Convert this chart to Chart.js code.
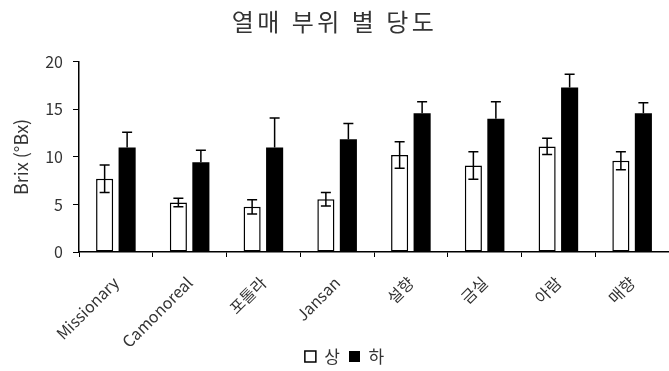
<!DOCTYPE html>
<html>
<head>
<meta charset="utf-8">
<script src="https://cdn.jsdelivr.net/npm/chart.js@4"></script>
<style>
  html, body { margin: 0; padding: 0; background: #fff; }
  #wrap { width: 669px; height: 371px; }
</style>
</head>
<body>
<div id="wrap"><canvas id="brixChart" width="669" height="371"></canvas></div>
<script>
const categories = ['Missionary', 'Camonoreal', '포톨라', 'Jansan', '설향', '금실', '아람', '매향'];
const upperBrix = [7.7, 5.2, 4.75, 5.55, 10.2, 9.1, 11.1, 9.6];
const upperErr = [1.45, 0.45, 0.75, 0.7, 1.4, 1.45, 0.85, 0.95];
const lowerBrix = [11.0, 9.45, 11.0, 11.85, 14.6, 14.0, 17.3, 14.6];
const lowerErr = [1.6, 1.25, 3.1, 1.65, 1.2, 1.8, 1.4, 1.1];
const yTicks = [0, 5, 10, 15, 20];

const FONT = "'Noto Sans CJK KR', 'Noto Sans', sans-serif";
const TEXT = '#333';

// error bars: white bars get both whiskers, black bars only the upper one
const errorBars = {
  id: 'errorBars',
  afterDatasetsDraw(chart) {
    const { ctx } = chart;
    const y = chart.scales.y;
    chart.data.datasets.forEach((ds, i) => {
      const meta = chart.getDatasetMeta(i);
      ctx.save();
      ctx.strokeStyle = '#000';
      ctx.lineWidth = 1.5;
      meta.data.forEach((bar, j) => {
        const v = ds.data[j];
        const e = ds.errors[j];
        const top = y.getPixelForValue(v + e);
        const bottom = ds.bothSides ? y.getPixelForValue(v - e) : y.getPixelForValue(v);
        const cap = 5;
        ctx.beginPath();
        ctx.moveTo(bar.x, top);
        ctx.lineTo(bar.x, bottom);
        ctx.moveTo(bar.x - cap, top);
        ctx.lineTo(bar.x + cap, top);
        if (ds.bothSides) {
          ctx.moveTo(bar.x - cap, bottom);
          ctx.lineTo(bar.x + cap, bottom);
        }
        ctx.stroke();
      });
      ctx.restore();
    });
  }
};

// wider letter spacing for the title, legend nudged a little to the right
const titleAndLegend = {
  id: 'titleAndLegend',
  afterLayout(chart) {
    if (chart.legend) {
      chart.legend.left += 10;
      chart.legend.right += 10;
    }
  },
  beforeDraw(chart) {
    const tb = chart.titleBlock;
    if (!tb || tb._spaced) return;
    const orig = tb.draw;
    tb.draw = function () {
      const ctx = this.ctx;
      ctx.save();
      ctx.letterSpacing = '3.5px';
      orig.apply(this, arguments);
      ctx.restore();
    };
    tb._spaced = true;
  }
};

new Chart(document.getElementById('brixChart'), {
  type: 'bar',
  data: {
    labels: categories,
    datasets: [
      {
        label: '상',
        data: upperBrix,
        errors: upperErr,
        bothSides: true,
        backgroundColor: '#fff',
        borderColor: '#000',
        borderWidth: 1.5,
        borderSkipped: false,
        categoryPercentage: 0.61,
        barPercentage: 0.76
      },
      {
        label: '하',
        data: lowerBrix,
        errors: lowerErr,
        bothSides: false,
        backgroundColor: '#000',
        borderColor: '#000',
        borderWidth: 0,
        categoryPercentage: 0.61,
        barPercentage: 0.76
      }
    ]
  },
  options: {
    responsive: false,
    animation: false,
    layout: { padding: { left: 0, right: 0, top: 0, bottom: -4 } },
    plugins: {
      title: {
        display: true,
        text: '열매 부위 별 당도',
        color: TEXT,
        font: { family: FONT, size: 24, weight: 'normal' },
        padding: { top: 7, bottom: 26 }
      },
      legend: {
        position: 'bottom',
        labels: {
          color: TEXT,
          font: { family: FONT, size: 17 },
          boxWidth: 11,
          boxHeight: 11,
          padding: 9
        }
      },
      tooltip: { enabled: false }
    },
    scales: {
      x: {
        afterFit(scale) {
          scale.height = 87;
          // let the rotated labels run past the bottom of the axis box
          scale._computeLabelArea = () => undefined;
        },
        grid: { drawOnChartArea: false, drawTicks: true, tickLength: 5, color: '#000', offset: true },
        border: { color: '#000', width: 1.5 },
        ticks: {
          color: TEXT,
          font: { family: FONT, size: 16 },
          minRotation: 45,
          maxRotation: 45,
          padding: 16
        }
      },
      y: {
        min: 0,
        max: 20,
        afterBuildTicks(scale) {
          scale.ticks = yTicks.map(v => ({ value: v }));
        },
        afterFit(scale) {
          scale.width = 79;
        },
        grid: { drawOnChartArea: false, drawTicks: true, tickLength: 6, color: '#000' },
        border: { color: '#000', width: 1.5 },
        ticks: {
          color: TEXT,
          font: { family: FONT, size: 16 },
          padding: 10
        },
        title: {
          display: true,
          text: 'Brix (°Bx)',
          color: TEXT,
          font: { family: FONT, size: 18 },
          padding: { top: 10, bottom: 0 }
        }
      }
    }
  },
  plugins: [errorBars, titleAndLegend]
});
</script>
</body>
</html>
